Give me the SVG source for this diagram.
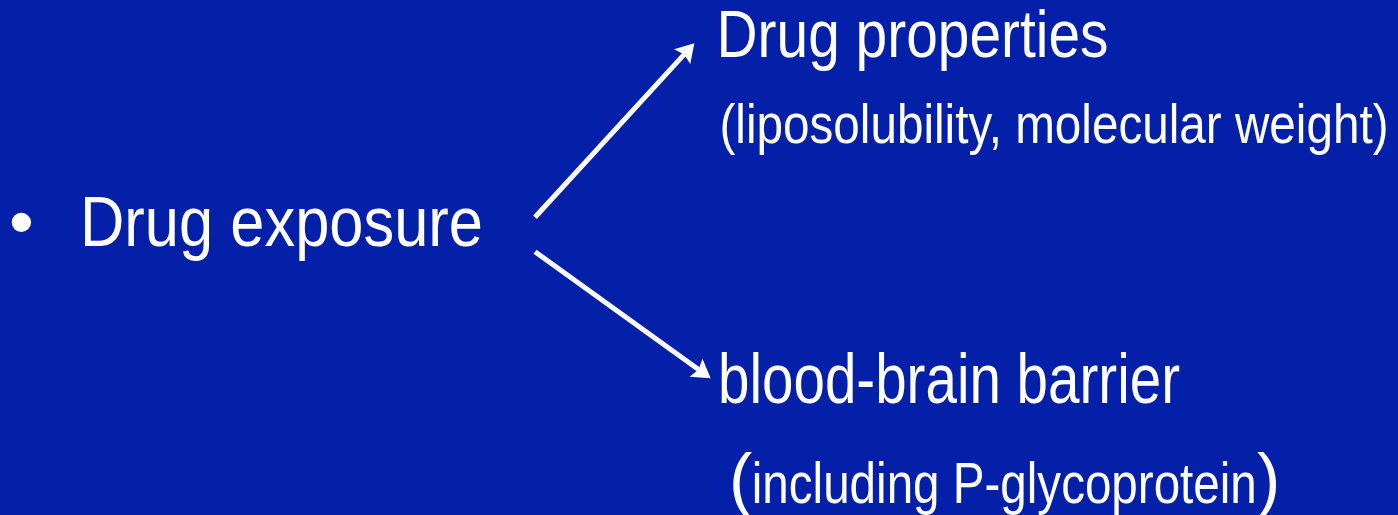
<svg xmlns="http://www.w3.org/2000/svg" width="1398" height="515" viewBox="0 0 1398 515">
  <style>
    .t { font-family: "Liberation Sans", Arial, sans-serif; fill: #ffffff; }
    .conn { stroke: #ffffff; stroke-width: 5; fill: none; stroke-linecap: butt; }
  </style>
  <defs>
    <marker id="arrow" markerUnits="userSpaceOnUse" markerWidth="20" markerHeight="22" refX="3" refY="11" orient="auto" overflow="visible">
      <path d="M0,0 L18,11 L0,22 L3,11 Z" fill="#ffffff"/>
    </marker>
  </defs>
  <rect x="0" y="0" width="1398" height="515" fill="#0420A8"/>

  <g id="node-exposure">
    <text class="t" x="9" y="246" font-size="71">•</text>
    <text class="t" x="80" y="246" font-size="71" textLength="403" lengthAdjust="spacingAndGlyphs">Drug exposure</text>
  </g>

  <g id="node-properties">
    <text class="t" x="716.5" y="57" font-size="67" textLength="392" lengthAdjust="spacingAndGlyphs">Drug properties</text>
    <text class="t" x="719.5" y="143" font-size="56" textLength="669" lengthAdjust="spacingAndGlyphs">(liposolubility, molecular weight)</text>
  </g>

  <g id="node-bbb">
    <text class="t" x="718" y="403" font-size="70" textLength="462" lengthAdjust="spacingAndGlyphs">blood-brain barrier</text>
    <text class="t" x="729" y="503" font-size="70">(</text>
    <text class="t" x="751.8" y="503" font-size="58" textLength="505" lengthAdjust="spacingAndGlyphs">including P-glycoprotein</text>
    <text class="t" x="1257" y="503" font-size="70">)</text>
  </g>

  <g id="connectors">
    <line class="conn" x1="535" y1="217.3" x2="684.2" y2="54.4" marker-end="url(#arrow)"/>
    <line class="conn" x1="535" y1="251.7" x2="698.5" y2="369.5" marker-end="url(#arrow)"/>
  </g>
</svg>
